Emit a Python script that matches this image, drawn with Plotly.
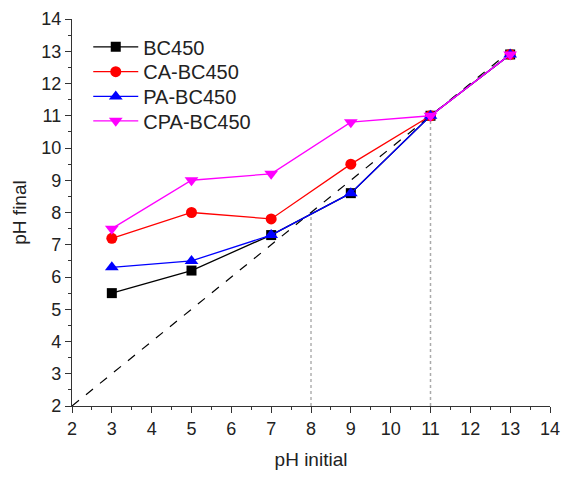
import plotly.graph_objects as go

ph_initial = [3, 5, 7, 9, 11, 13]
bc450 = [5.5, 6.2, 7.3, 8.6, 11.0, 12.9]
ca_bc450 = [7.2, 8.0, 7.8, 9.5, 11.0, 12.9]
pa_bc450 = [6.3, 6.5, 7.3, 8.6, 11.0, 12.9]
cpa_bc450 = [7.5, 9.0, 9.2, 10.8, 11.0, 12.9]

diag = [2, 13]
guide8_x = [8, 8]
guide8_y = [2, 7.9]
guide11_x = [11, 11]
guide11_y = [2, 11]

fig = go.Figure()

# reference lines
fig.add_trace(go.Scatter(x=diag, y=diag, mode="lines", showlegend=False,
                         line=dict(color="black", width=1.2, dash="dash")))
fig.add_trace(go.Scatter(x=guide8_x, y=guide8_y, mode="lines", showlegend=False,
                         line=dict(color="#888888", width=1, dash="dot")))
fig.add_trace(go.Scatter(x=guide11_x, y=guide11_y, mode="lines", showlegend=False,
                         line=dict(color="#aaaaaa", width=1.5, dash="dot")))

series = [
    ("BC450", bc450, "black", "square", 10),
    ("CA-BC450", ca_bc450, "red", "circle", 11),
    ("PA-BC450", pa_bc450, "blue", "triangle-up", 12),
    ("CPA-BC450", cpa_bc450, "magenta", "triangle-down", 12),
]
# one legend per item so the rows can sit as tight as in the original
legend_ids = ["legend", "legend2", "legend3", "legend4"]
legend_y = [0.928, 0.864, 0.800, 0.737]

for (name, vals, col, sym, sz), lid in zip(series, legend_ids):
    fig.add_trace(go.Scatter(x=ph_initial, y=vals, mode="lines+markers", name=name,
                             line=dict(color=col, width=1.3),
                             marker=dict(symbol=sym, size=sz, color=col),
                             legend=lid))

axis_common = dict(
    showline=True, linecolor="#333333", linewidth=1.3,
    ticks="outside", ticklen=6, tickcolor="#333333", tickwidth=1.3,
    minor=dict(ticks="outside", ticklen=3, tickcolor="#333333", dtick=0.5),
    showgrid=False, zeroline=False, dtick=1, automargin=False,
    tickfont=dict(size=18, color="#222222"),
)

fig.update_xaxes(range=[2, 14], title=dict(text="pH initial", font=dict(size=19, color="#222222"), standoff=14),
                 **axis_common)
fig.update_yaxes(range=[2, 14], title=dict(text="pH final", font=dict(size=19, color="#222222"), standoff=9),
                 **axis_common)

legend_style = dict(x=0.034, xanchor="left", yanchor="middle",
                    font=dict(size=20, color="#222222"), bgcolor="rgba(0,0,0,0)",
                    itemwidth=45)
layout_legends = {lid: dict(y=ly, **legend_style) for lid, ly in zip(legend_ids, legend_y)}

fig.update_layout(
    width=574, height=480,
    margin=dict(l=64, r=32, t=11, b=82),
    plot_bgcolor="white", paper_bgcolor="white",
    font=dict(family="Liberation Sans, Arial, sans-serif"),
    **layout_legends,
)

fig.write_html("out.html")
